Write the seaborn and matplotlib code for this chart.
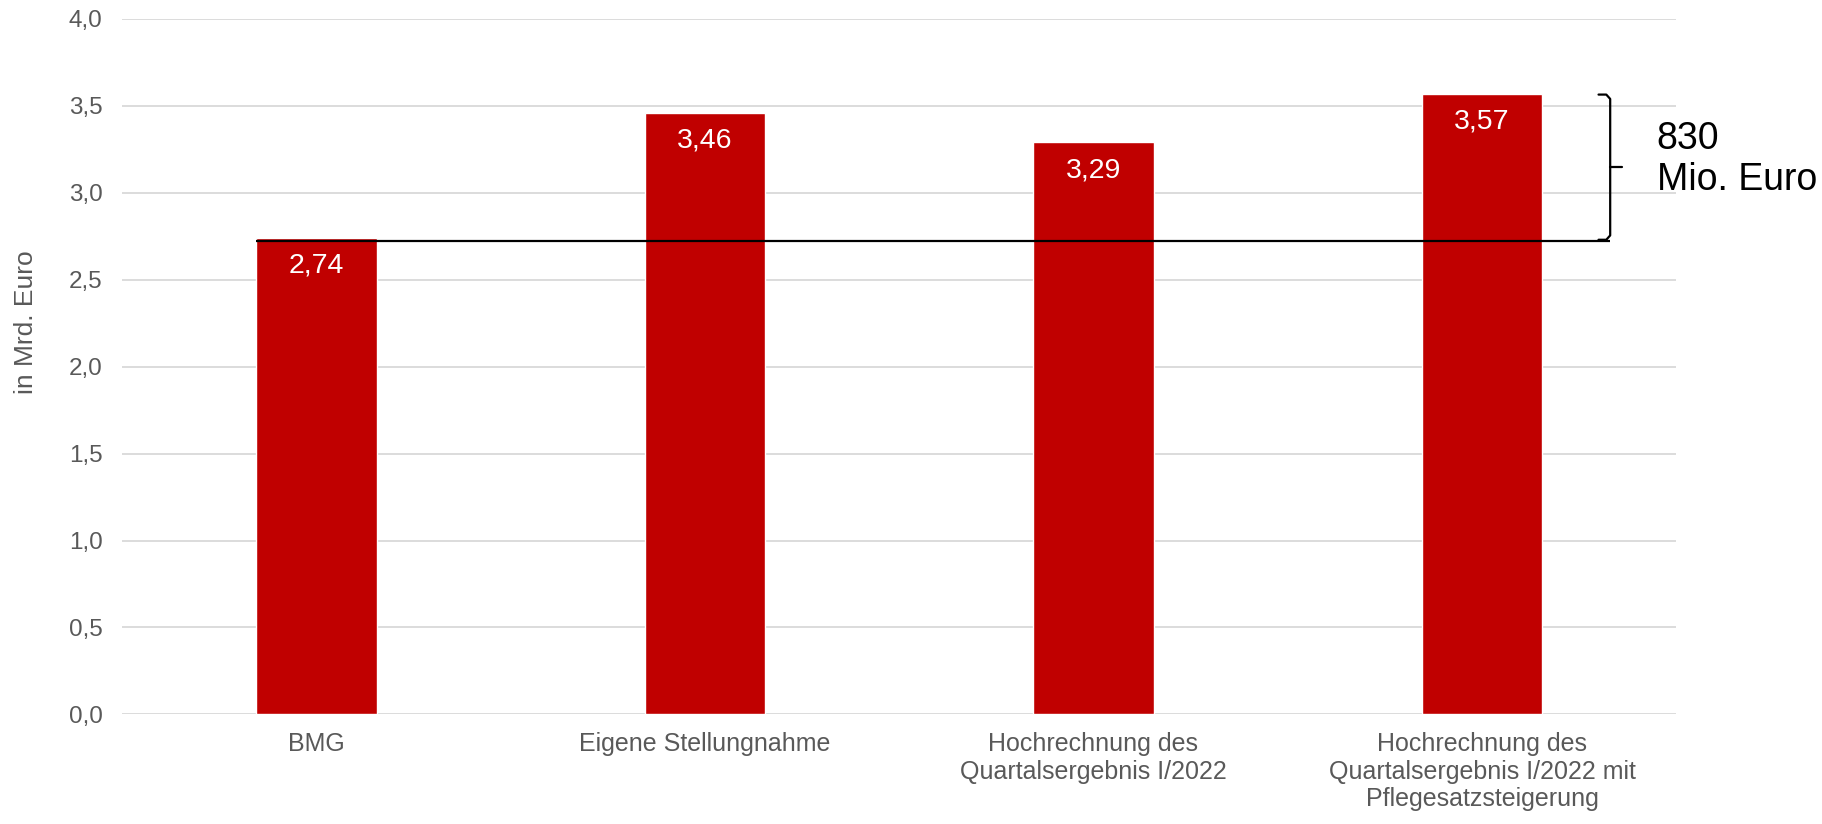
import matplotlib
matplotlib.use("Agg")
import matplotlib.pyplot as plt
import seaborn as sns
import pandas as pd
import numpy as np

categories = [
    "BMG",
    "Eigene Stellungnahme",
    "Hochrechnung des\nQuartalsergebnis I/2022",
    "Hochrechnung des\nQuartalsergebnis I/2022 mit\nPflegesatzsteigerung",
]
values = [2.74, 3.46, 3.29, 3.57]
y_ticks = [0.0, 0.5, 1.0, 1.5, 2.0, 2.5, 3.0, 3.5, 4.0]
diff_label = "830\nMio. Euro"
y_label = "in Mrd. Euro"

sns.set_theme(style="white")
plt.rcParams["font.family"] = ["Liberation Sans", "DejaVu Sans"]

grey = "#595959"
red = "#c00000"

df = pd.DataFrame({"Kategorie": categories, "Wert": values})

fig = plt.figure(figsize=(18.22, 8.24), dpi=100)
ax = fig.add_axes([0.067, 0.133, 0.853, 0.844])

sns.barplot(data=df, x="Kategorie", y="Wert", color=red, width=0.31,
            saturation=1, ax=ax, zorder=3)

ax.set_ylim(0, 4.0)
ax.set_xlim(-0.5, 3.5)
ax.set_yticks(y_ticks)
ax.set_yticklabels([f"{t:.1f}".replace(".", ",") for t in y_ticks],
                   fontsize=17.5, color=grey)
ax.tick_params(axis="x", labelsize=18, labelcolor=grey, length=0, pad=13)
ax.tick_params(axis="y", length=0, pad=14)
for lab in ax.get_xticklabels():
    lab.set_linespacing(1.17)
ax.yaxis.grid(True, color="#d9d9d9", linewidth=1.3, zorder=0)
ax.set_axisbelow(True)
for s in ax.spines.values():
    s.set_visible(False)
ax.set_xlabel("")
ax.set_ylabel("")
fig.text(0.0145, 0.609, y_label, rotation=90, ha="center", va="center",
         fontsize=19, color=grey)

# value labels inside the bars
for i, v in enumerate(values):
    ax.text(i, v - 0.16, f"{v:.2f}".replace(".", ","), ha="center",
            va="center", color="white", fontsize=20.5, zorder=4)

# reference line at the BMG value and brace up to the highest bar
base = values[0] - 0.015
top = max(values)
bx = 3.33
ax.plot([-0.155, bx], [base, base], color="black", linewidth=1.6,
        zorder=5, clip_on=False, solid_capstyle="butt")
mid = (base + top) / 2
ax.plot([bx - 0.03, bx - 0.01, bx, bx, bx - 0.01, bx - 0.03],
        [top - 0.005, top - 0.005, top - 0.03, base + 0.03, base + 0.005, base + 0.005],
        color="black", linewidth=1.6, clip_on=False, zorder=5)
ax.plot([bx, bx + 0.03], [mid, mid], color="black", linewidth=1.6,
        clip_on=False, zorder=5)
ax.text(bx + 0.12, mid + 0.045, diff_label, ha="left", va="center",
        fontsize=27, color="black", linespacing=1.2, clip_on=False)

fig.savefig("out.png", dpi=100)
